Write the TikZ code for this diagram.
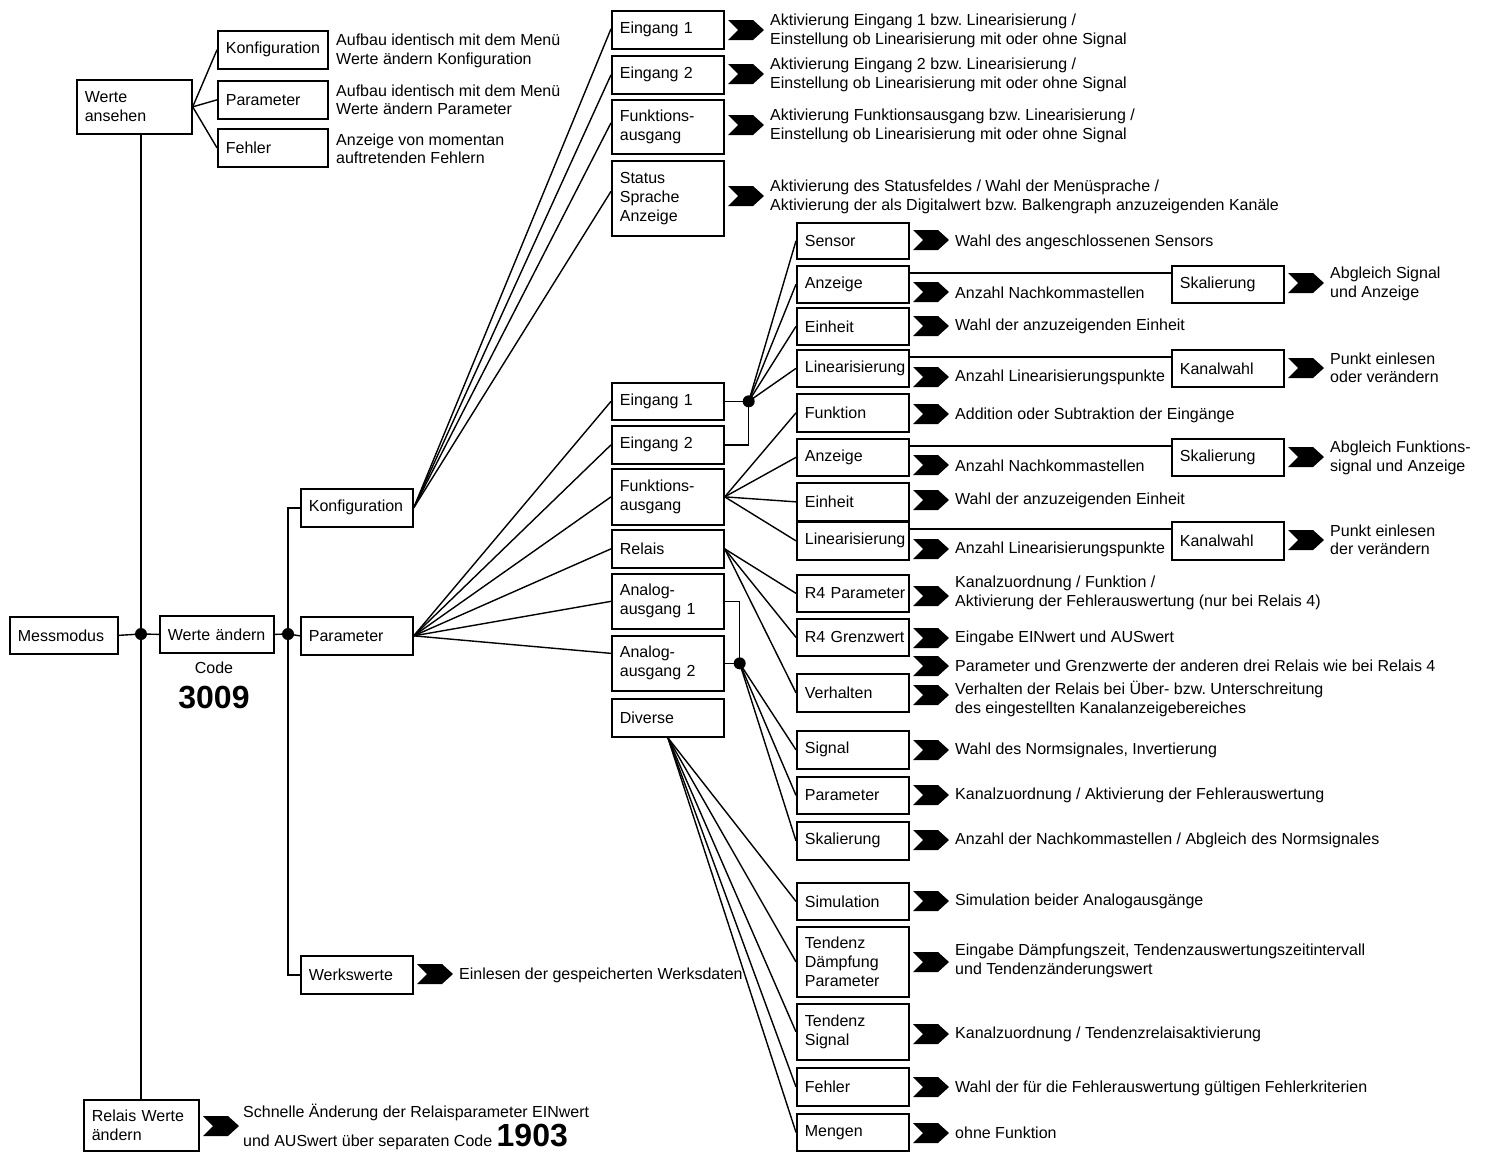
\documentclass[tikz,border=0pt]{standalone}
\usepackage{fontspec}
\setmainfont{Liberation Sans}
\frenchspacing
\newcommand\boxfont{\fontsize{16pt}{19pt}\selectfont}
\newcommand\descfont{\fontsize{16pt}{18.5pt}\selectfont}
\newcommand\bigcode{\bfseries\fontsize{32pt}{36pt}\selectfont}
\begin{document}
\begin{tikzpicture}[x=1pt,y=-1pt,
  bx/.style 2 args={draw, line width=1.7pt, anchor=north west, inner xsep=8pt, inner ysep=0pt,
    text width=#1, minimum height=#2, align=left, font=\boxfont},
  ds/.style={anchor=west, inner sep=0pt, align=left, font=\descfont},
  ln/.style={line width=1.4pt},
  dot/.style={circle, fill=black, inner sep=0pt, minimum size=12pt},
  chev/.pic={\fill (-18,-10) -- (7,-10) -- (18,0) -- (7,10) -- (-18,10) -- (-8,0) -- cycle;}
]
\useasboundingbox (0,0) rectangle (1490,1151);
\fill[white] (0,0) rectangle (1490,1151);

% ---------- left part ----------
\node[bx={99pt}{54pt}] (wa) at (76,79) {Werte\\ansehen};
\node[bx={94pt}{38pt}] (ak) at (217,30) {Konfiguration};
\node[bx={94pt}{38pt}] (ap) at (217,80) {Parameter};
\node[bx={94pt}{38pt}] (af) at (217,128) {Fehler};
\node[ds] (akd) at (336,51) {Aufbau identisch mit dem Menü\\Werte ändern Konfiguration};
\node[ds] (apd) at (336,100) {Aufbau identisch mit dem Menü\\Werte ändern Parameter};
\node[ds] (afd) at (336,149) {Anzeige von momentan\\auftretenden Fehlern};

\node[bx={92pt}{37pt}] (mm) at (9,616) {Messmodus};
\node[bx={98pt}{37pt}] (wae) at (159,615) {Werte ändern};
\node[dot] (d1) at (141,634) {};
\node[dot] (d2) at (288,634) {};
\node[font=\boxfont, inner sep=0pt] (code) at (214,668) {Code};
\node[font=\bigcode, inner sep=0pt] (c3009) at (214,697) {3009};

\node[bx={96pt}{38pt}] (kon) at (300,488) {Konfiguration};
\node[bx={96pt}{38pt}] (par) at (300,616) {Parameter};
\node[bx={96pt}{38pt}] (wer) at (300,955) {Werkswerte};
\pic at (435,974) {chev};
\node[ds] (werd) at (459,975) {Einlesen der gespeicherten Werksdaten};

\node[bx={99pt}{51pt}] (rwa) at (83,1099) {Relais Werte\\ändern};
\pic at (221,1126) {chev};
\node[ds] (rwad1) at (243,1112) {Schnelle Änderung der Relaisparameter EINwert};
\node[anchor=base west, inner sep=0pt, font=\descfont] (rwad2) at (243,1146) {und AUSwert über separaten Code {\bigcode 1903}};

% ---------- Konfiguration submenu ----------
\node[bx={96pt}{38pt}] (ke1) at (611,10) {Eingang 1};
\node[bx={96pt}{38pt}] (ke2) at (611,55) {Eingang 2};
\node[bx={96pt}{54pt}] (kfa) at (611,99) {Funktions-\\ausgang};
\node[bx={96pt}{75pt}] (kst) at (611,160) {Status\\Sprache\\Anzeige};
\pic at (746,30) {chev};
\pic at (746,74) {chev};
\pic at (746,125) {chev};
\pic at (746,196) {chev};
\node[ds] (ke1d) at (770,31) {Aktivierung Eingang 1 bzw. Linearisierung /\\Einstellung ob Linearisierung mit oder ohne Signal};
\node[ds] (ke2d) at (770,75) {Aktivierung Eingang 2 bzw. Linearisierung /\\Einstellung ob Linearisierung mit oder ohne Signal};
\node[ds] (kfad) at (770,126) {Aktivierung Funktionsausgang bzw. Linearisierung /\\Einstellung ob Linearisierung mit oder ohne Signal};
\node[ds] (kstd) at (770,197) {Aktivierung des Statusfeldes / Wahl der Menüsprache /\\Aktivierung der als Digitalwert bzw. Balkengraph anzuzeigenden Kanäle};

% ---------- Parameter submenu ----------
\node[bx={96pt}{37pt}] (pe1) at (611,382) {Eingang 1};
\node[bx={96pt}{38pt}] (pe2) at (611,425) {Eingang 2};
\node[bx={96pt}{56pt}] (pfa) at (611,468) {Funktions-\\ausgang};
\node[bx={96pt}{38pt}] (pre) at (611,529) {Relais};
\node[bx={96pt}{55pt}] (pa1) at (611,573) {Analog-\\ausgang 1};
\node[bx={96pt}{55pt}] (pa2) at (611,635) {Analog-\\ausgang 2};
\node[bx={96pt}{38pt}] (pdi) at (611,698) {Diverse};
\node[dot] (dE) at ([xshift=24pt]pe1.east) {};
\node[dot] (dA) at ([xshift=15pt]pa2.east) {};

% ---------- column D ----------
\node[bx={96pt}{36pt}] (sen) at (796,222) {Sensor};
\node[bx={96pt}{37pt}] (anz1) at (796,265) {Anzeige};
\node[bx={96pt}{37pt}] (ein1) at (796,307) {Einheit};
\node[bx={96pt}{37pt}] (lin1) at (796,349) {Linearisierung};
\node[bx={96pt}{38pt}] (fun) at (796,393) {Funktion};
\node[bx={96pt}{37pt}] (anz2) at (796,438) {Anzeige};
\node[bx={96pt}{38pt}] (ein2) at (796,482) {Einheit};
\node[bx={96pt}{38pt}] (lin2) at (796,521) {Linearisierung};
\node[bx={96pt}{37pt}] (r4p) at (796,574) {\mbox{R4 Parameter}};
\node[bx={96pt}{37pt}] (r4g) at (796,618) {\mbox{R4 Grenzwert}};
\node[bx={96pt}{38pt}] (ver) at (796,673) {Verhalten};
\node[bx={96pt}{38pt}] (sig) at (796,730) {Signal};
\node[bx={96pt}{37pt}] (apa) at (796,776) {Parameter};
\node[bx={96pt}{38pt}] (ask) at (796,821) {Skalierung};
\node[bx={96pt}{37pt}] (sim) at (796,882) {Simulation};
\node[bx={96pt}{70pt}] (tdp) at (796,926) {Tendenz\\Dämpfung\\Parameter};
\node[bx={96pt}{56pt}] (tsi) at (796,1003) {Tendenz\\Signal};
\node[bx={96pt}{38pt}] (feh) at (796,1067) {Fehler};
\node[bx={96pt}{37pt}] (men) at (796,1113) {Mengen};

% ---------- column E ----------
\node[bx={96pt}{37pt}] (sk1) at (1171,265) {Skalierung};
\node[bx={96pt}{37pt}] (kw1) at (1171,349) {Kanalwahl};
\node[bx={96pt}{37pt}] (sk2) at (1171,438) {Skalierung};
\node[bx={96pt}{38pt}] (kw2) at (1171,521) {Kanalwahl};

% chevrons column D
\foreach \yy in {240,292,326,377,414,465,500,549,596,638,666,695,750,795,840,901,962,1034,1087,1133}
  \pic at (931,\yy) {chev};
\foreach \yy in {283,368,457,540}
  \pic at (1306,\yy) {chev};

% descriptions column D
\node[ds] (send) at (955,242) {Wahl des angeschlossenen Sensors};
\node[ds] (anz1d) at (955,293) {Anzahl Nachkommastellen};
\node[ds] (ein1d) at (955,326) {Wahl der anzuzeigenden Einheit};
\node[ds] (lin1d) at (955,377) {Anzahl Linearisierungspunkte};
\node[ds] (fund) at (955,415) {Addition oder Subtraktion der Eingänge};
\node[ds] (anz2d) at (955,466) {Anzahl Nachkommastellen};
\node[ds] (ein2d) at (955,500) {Wahl der anzuzeigenden Einheit};
\node[ds] (lin2d) at (955,549) {Anzahl Linearisierungspunkte};
\node[ds] (r4pd) at (955,593) {Kanalzuordnung / Funktion /\\Aktivierung der Fehlerauswertung (nur bei Relais 4)};
\node[ds] (r4gd) at (955,638) {Eingabe EINwert und AUSwert};
\node[ds] (relx) at (955,666) {Parameter und Grenzwerte der anderen drei Relais wie bei Relais 4};
\node[ds] (verd) at (955,699) {Verhalten der Relais bei Über- bzw. Unterschreitung\\des eingestellten Kanalanzeigebereiches};
\node[ds] (sigd) at (955,750) {Wahl des Normsignales, Invertierung};
\node[ds] (apad) at (955,795) {Kanalzuordnung / Aktivierung der Fehlerauswertung};
\node[ds] (askd) at (955,840) {Anzahl der Nachkommastellen / Abgleich des Normsignales};
\node[ds] (simd) at (955,901) {Simulation beider Analogausgänge};
\node[ds] (tdpd) at (955,961) {Eingabe Dämpfungszeit, Tendenzauswertungszeitintervall\\und Tendenzänderungswert};
\node[ds] (tsid) at (955,1034) {Kanalzuordnung / Tendenzrelaisaktivierung};
\node[ds] (fehd) at (955,1088) {Wahl der für die Fehlerauswertung gültigen Fehlerkriterien};
\node[ds] (mend) at (955,1133) {ohne Funktion};

% descriptions column E
\node[ds] (sk1d) at (1330,284) {Abgleich Signal\\und Anzeige};
\node[ds] (kw1d) at (1330,368) {Punkt einlesen\\oder verändern};
\node[ds] (sk2d) at (1330,458) {Abgleich Funktions-\\signal und Anzeige};
\node[ds] (kw2d) at (1330,540) {Punkt einlesen\\der verändern};

% ---------- connectors ----------
\draw[ln] (mm.east) -- (d1.center) -- (wae.west);
\draw[ln] (wae.east) -- (d2.center) -- (par.west);
\draw[ln] (d1 |- wa.south) -- (d1 |- rwa.north);
\draw[ln] (kon.west) -| (d2.center) |- (wer.west);

\draw[ln] (wa.east) -- (ak.west);
\draw[ln] (wa.east) -- (ap.west);
\draw[ln] (wa.east) -- (af.west);

\draw[ln] (kon.east) -- ([yshift=1pt]ke1.west);
\draw[ln] (kon.east) -- (ke2.west);
\draw[ln] (kon.east) -- ([yshift=4pt]kfa.west);
\draw[ln] (kon.east) -- ([yshift=7pt]kst.west);

\draw[ln] (par.east) -- (pe1.west);
\draw[ln] (par.east) -- (pe2.west);
\draw[ln] (par.east) -- (pfa.west);
\draw[ln] (par.east) -- (pre.west);
\draw[ln] (par.east) -- (pa1.west);
\draw[ln] (par.east) -- ([yshift=10pt]pa2.west);

\draw[ln] (pe1.east) -- (dE.center);
\draw[ln] (pe2.east) -| (dE.center);
\draw[ln] (pa1.east) -| (dA.center);
\draw[ln] (pa2.east) -- (dA.center);

\foreach \t in {sen,anz1,ein1,lin1} \draw[ln] (dE.center) -- (\t.west);
\foreach \t in {fun,anz2,ein2,lin2} \draw[ln] (pfa.east) -- (\t.west);
\foreach \t in {r4p,r4g,ver} \draw[ln] (pre.east) -- (\t.west);
\foreach \t in {sig,apa,ask} \draw[ln] (dA.center) -- (\t.west);
\foreach \t in {sim,tdp,tsi,feh,men} \draw[ln] (pdi.south) -- (\t.west);

\draw[ln] ([yshift=-8pt]anz1.north east) -- ([yshift=-8pt]anz1.north east -| sk1.west);
\draw[ln] ([yshift=-8pt]lin1.north east) -- ([yshift=-8pt]lin1.north east -| kw1.west);
\draw[ln] ([yshift=-8pt]anz2.north east) -- ([yshift=-8pt]anz2.north east -| sk2.west);
\draw[ln] ([yshift=-8pt]lin2.north east) -- ([yshift=-8pt]lin2.north east -| kw2.west);
\end{tikzpicture}
\end{document}
